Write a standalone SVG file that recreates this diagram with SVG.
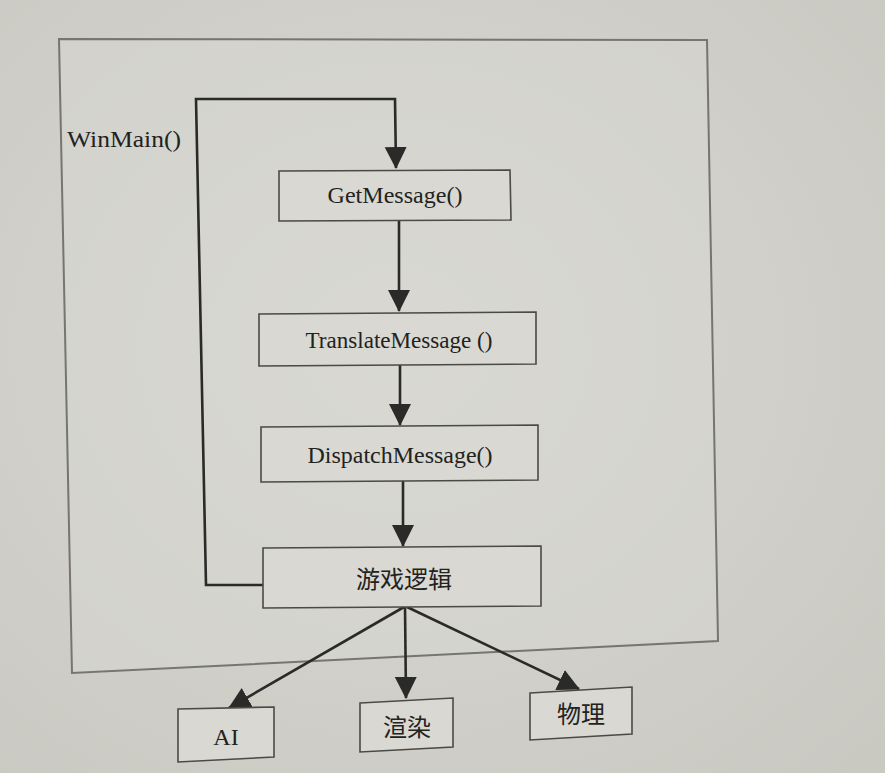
<svg xmlns="http://www.w3.org/2000/svg" width="885" height="773" viewBox="0 0 885 773">
<defs>
<style>
.box{fill:#d9d8d2;stroke:#4a4a46;stroke-width:1.6}
.lbl{font-family:"Liberation Serif","Times New Roman",serif;font-size:24px;fill:#222220;text-anchor:middle}
.cjk{font-family:"Noto Sans CJK SC","Noto Sans CJK JP",sans-serif;font-size:24px;fill:#222220;text-anchor:middle}
.ln{fill:none;stroke:#2a2a28;stroke-width:2.6}
</style>
<marker id="ah" markerUnits="userSpaceOnUse" markerWidth="24" markerHeight="24" refX="21" refY="11" orient="auto" viewBox="0 0 24 24">
<path d="M0,0 L22,11 L0,22 z" fill="#2a2a28"/>
</marker>
<radialGradient id="bg" cx="0.45" cy="0.45" r="0.75">
<stop offset="0" stop-color="#dad9d4"/>
<stop offset="1" stop-color="#c9c8c1"/>
</radialGradient>
</defs>
<rect width="885" height="773" fill="url(#bg)"/>
<polygon points="59,39 707,40 718,641 72,673" fill="#d8d7d1" fill-opacity="0.5" stroke="#76766e" stroke-width="2"/>
<text x="67" y="147" font-family="Liberation Serif, Times New Roman, serif" font-size="24" fill="#222220" textLength="114" lengthAdjust="spacingAndGlyphs">WinMain()</text>
<g id="connectors">
<path class="ln" d="M263,585 L206,585 L196,99 L395,99 L396,168" marker-end="url(#ah)"/>
<path class="ln" d="M399,221 L399,311" marker-end="url(#ah)"/>
<path class="ln" d="M400,365 L400,425" marker-end="url(#ah)"/>
<path class="ln" d="M403,481 L403,546" marker-end="url(#ah)"/>
<path class="ln" d="M404,607 L229,708" marker-end="url(#ah)"/>
<path class="ln" d="M405,607 L406,698" marker-end="url(#ah)"/>
<path class="ln" d="M407,607 L579,689" marker-end="url(#ah)"/>
</g>
<g id="getmessage">
<polygon class="box" points="279,171 510,170 511,220 279,221"/>
<text class="lbl" x="395" y="203" textLength="135" lengthAdjust="spacingAndGlyphs">GetMessage()</text>
</g>
<g id="translatemessage">
<polygon class="box" points="259,314 536,312 536,364 259,366"/>
<text class="lbl" x="399" y="348" textLength="187" lengthAdjust="spacingAndGlyphs">TranslateMessage ()</text>
</g>
<g id="dispatchmessage">
<polygon class="box" points="261,427 538,425 538,480 261,482"/>
<text class="lbl" x="400" y="463" textLength="185" lengthAdjust="spacingAndGlyphs">DispatchMessage()</text>
</g>
<g id="gamelogic">
<polygon class="box" points="263,548 541,546 541,606 263,608"/>
<text class="cjk" x="404" y="588">游戏逻辑</text>
</g>
<g id="ai">
<polygon class="box" points="178,709 274,707 274,757 178,762"/>
<text class="lbl" x="226" y="745" font-size="22">AI</text>
</g>
<g id="render">
<polygon class="box" points="360,703 453,698 453,747 360,752"/>
<text class="cjk" x="407" y="736">渲染</text>
</g>
<g id="physics">
<polygon class="box" points="530,693 632,687 632,734 530,740"/>
<text class="cjk" x="581" y="723">物理</text>
</g>
</svg>
